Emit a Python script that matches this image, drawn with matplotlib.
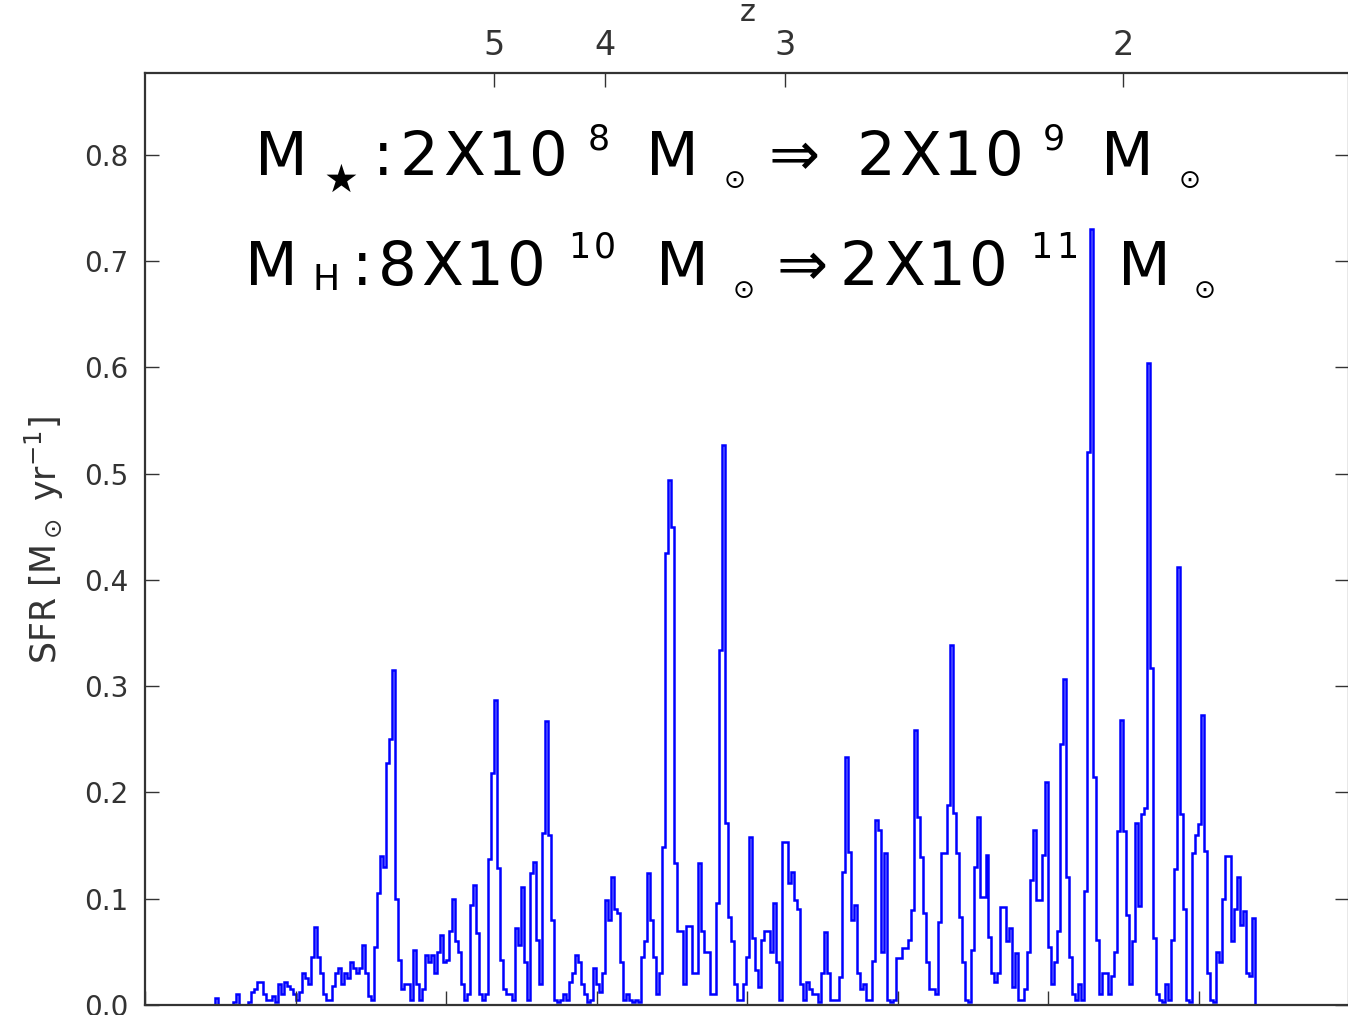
import numpy as np
import matplotlib
matplotlib.use("Agg")
import matplotlib.pyplot as plt

# star formation history (SFR in Msun/yr, even time bins)
t_start, t_end = 0.222, 3.689   # Gyr
sfr = [
    0.0, 0.007, 0.0, 0.0, 0.0, 0.0, 0.0, 0.003, 0.01, 0.0,
    0.0, 0.0, 0.003, 0.012, 0.015, 0.022, 0.022, 0.01, 0.005, 0.005,
    0.008, 0.003, 0.02, 0.01, 0.022, 0.018, 0.015, 0.01, 0.005, 0.012,
    0.03, 0.025, 0.02, 0.045, 0.073, 0.045, 0.03, 0.01, 0.005, 0.005,
    0.018, 0.03, 0.035, 0.02, 0.03, 0.025, 0.04, 0.035, 0.03, 0.035,
    0.056, 0.03, 0.008, 0.005, 0.055, 0.105, 0.14, 0.13, 0.228, 0.25,
    0.315, 0.1, 0.042, 0.015, 0.02, 0.02, 0.005, 0.052, 0.02, 0.005,
    0.015, 0.047, 0.04, 0.047, 0.03, 0.05, 0.066, 0.04, 0.042, 0.07,
    0.1, 0.06, 0.05, 0.02, 0.005, 0.01, 0.094, 0.113, 0.068, 0.01,
    0.005, 0.01, 0.137, 0.218, 0.287, 0.129, 0.042, 0.015, 0.01, 0.01,
    0.005, 0.072, 0.056, 0.111, 0.04, 0.005, 0.124, 0.135, 0.061, 0.02,
    0.162, 0.267, 0.16, 0.08, 0.005, 0.003, 0.005, 0.01, 0.005, 0.022,
    0.03, 0.047, 0.04, 0.02, 0.01, 0.003, 0.005, 0.035, 0.02, 0.012,
    0.03, 0.099, 0.08, 0.12, 0.09, 0.087, 0.04, 0.005, 0.01, 0.005,
    0.003, 0.005, 0.003, 0.045, 0.06, 0.124, 0.08, 0.045, 0.01, 0.03,
    0.149, 0.425, 0.494, 0.45, 0.134, 0.07, 0.07, 0.02, 0.074, 0.074,
    0.03, 0.03, 0.134, 0.07, 0.05, 0.05, 0.01, 0.01, 0.096, 0.334,
    0.527, 0.171, 0.083, 0.06, 0.02, 0.005, 0.005, 0.02, 0.045, 0.158,
    0.063, 0.033, 0.017, 0.061, 0.07, 0.07, 0.05, 0.096, 0.04, 0.005,
    0.153, 0.153, 0.115, 0.125, 0.099, 0.09, 0.02, 0.005, 0.022, 0.015,
    0.01, 0.01, 0.003, 0.03, 0.069, 0.03, 0.005, 0.005, 0.005, 0.026,
    0.125, 0.233, 0.144, 0.08, 0.094, 0.03, 0.015, 0.02, 0.005, 0.005,
    0.041, 0.174, 0.165, 0.05, 0.143, 0.005, 0.003, 0.005, 0.044, 0.044,
    0.054, 0.054, 0.061, 0.089, 0.259, 0.177, 0.139, 0.087, 0.04, 0.015,
    0.015, 0.01, 0.078, 0.143, 0.143, 0.188, 0.339, 0.181, 0.143, 0.083,
    0.04, 0.005, 0.003, 0.052, 0.13, 0.177, 0.102, 0.102, 0.141, 0.064,
    0.03, 0.022, 0.03, 0.092, 0.092, 0.06, 0.072, 0.017, 0.049, 0.005,
    0.005, 0.015, 0.05, 0.118, 0.165, 0.099, 0.099, 0.141, 0.21, 0.055,
    0.02, 0.04, 0.07, 0.246, 0.307, 0.12, 0.045, 0.01, 0.005, 0.02,
    0.005, 0.107, 0.52, 0.73, 0.215, 0.061, 0.01, 0.03, 0.03, 0.01,
    0.027, 0.05, 0.164, 0.268, 0.164, 0.085, 0.02, 0.06, 0.171, 0.093,
    0.18, 0.185, 0.604, 0.317, 0.063, 0.01, 0.005, 0.003, 0.02, 0.005,
    0.061, 0.128, 0.412, 0.18, 0.09, 0.005, 0.003, 0.143, 0.16, 0.17,
    0.273, 0.145, 0.03, 0.005, 0.003, 0.05, 0.04, 0.1, 0.14, 0.14,
    0.06, 0.09, 0.12, 0.075, 0.088, 0.03, 0.027, 0.082,
]

# redshift labels on the top axis and the cosmic time (Gyr) they sit at
z_labels = ["5", "4", "3", "2"]
z_times = [1.159, 1.527, 2.125, 3.250]

x_ticks = [0.0, 0.5, 1.0, 1.5, 2.0, 2.5, 3.0, 3.5, 4.0]
y_ticks = [0.0, 0.1, 0.2, 0.3, 0.4, 0.5, 0.6, 0.7, 0.8]

W, H = 1348, 1015
fig = plt.figure(figsize=(W / 100, H / 100), dpi=100)
ax = fig.add_axes([145 / W, 1 - 1005 / H, (1349 - 145) / W, (1005 - 73) / H])

edges = np.linspace(t_start, t_end, len(sfr) + 1)
ax.stairs(sfr, edges, baseline=0, color="#0000ff", lw=1.8)

ax.set_xlim(0, 4)
ax.set_ylim(0, 0.877)
ax.set_xticks(x_ticks)
ax.set_yticks(y_ticks)
ax.set_yticklabels([f"{v:.1f}" for v in y_ticks])
ax.tick_params(axis="both", direction="in", length=10, width=1.0, colors="#333333",
               labelsize=20, pad=12, top=False, right=True, labelbottom=False)
for s in ax.spines.values():
    s.set_linewidth(1.6)
    s.set_color("#333333")

top = ax.twiny()
top.set_xlim(ax.get_xlim())
top.set_xticks(z_times)
top.set_xticklabels(z_labels)
top.tick_params(axis="x", direction="in", length=10, width=1.0, colors="#333333",
                labelsize=24, pad=8)
for s in top.spines.values():
    s.set_visible(False)

fig.text(748 / W, 1 - 21 / H, "z", fontsize=22, color="#333333", ha="center", va="baseline")
fig.text(44 / W, 1 - 540 / H, r"SFR [M$_\odot$ yr$^{-1}$]", fontsize=25, color="#333333",
         rotation=90, ha="center", va="center")


def put(x, y, s, size, step=None):
    # one piece of the annotation; step spreads the letters out like the original
    if step is None:
        fig.text(x / W, 1 - y / H, s, fontsize=size, color="black", ha="left",
                 va="baseline", family=["DejaVu Sans"])
        return
    for i, ch in enumerate(s):
        fig.text((x + i * step) / W, 1 - y / H, ch, fontsize=size, color="black",
                 ha="left", va="baseline", family=["DejaVu Sans"])


# first annotation line: stellar mass growth
put(255, 175, "M", 44)
put(323, 192, "★", 28)
put(373, 175, ":", 44)
put(400, 175, "2X10", 44, step=43)
put(588, 150, "8", 25)
put(646, 175, "M", 44)
put(724, 188, "⊙", 19)
put(768, 175, "⇒", 44)
put(856, 175, "2X10", 44, step=43)
put(1043, 150, "9", 25)
put(1101, 175, "M", 44)
put(1179, 188, "⊙", 19)

# second annotation line: halo mass growth
put(245, 285, "M", 44)
put(313, 290, "H", 26)
put(352, 285, ":", 44)
put(378, 285, "8X10", 44, step=43)
put(568, 258, "10", 25, step=26)
put(656, 285, "M", 44)
put(733, 298, "⊙", 19)
put(776, 285, "⇒", 44)
put(840, 285, "2X10", 44, step=43)
put(1030, 258, "11", 25, step=26)
put(1118, 285, "M", 44)
put(1194, 298, "⊙", 19)

fig.savefig("out.png", dpi=100)
